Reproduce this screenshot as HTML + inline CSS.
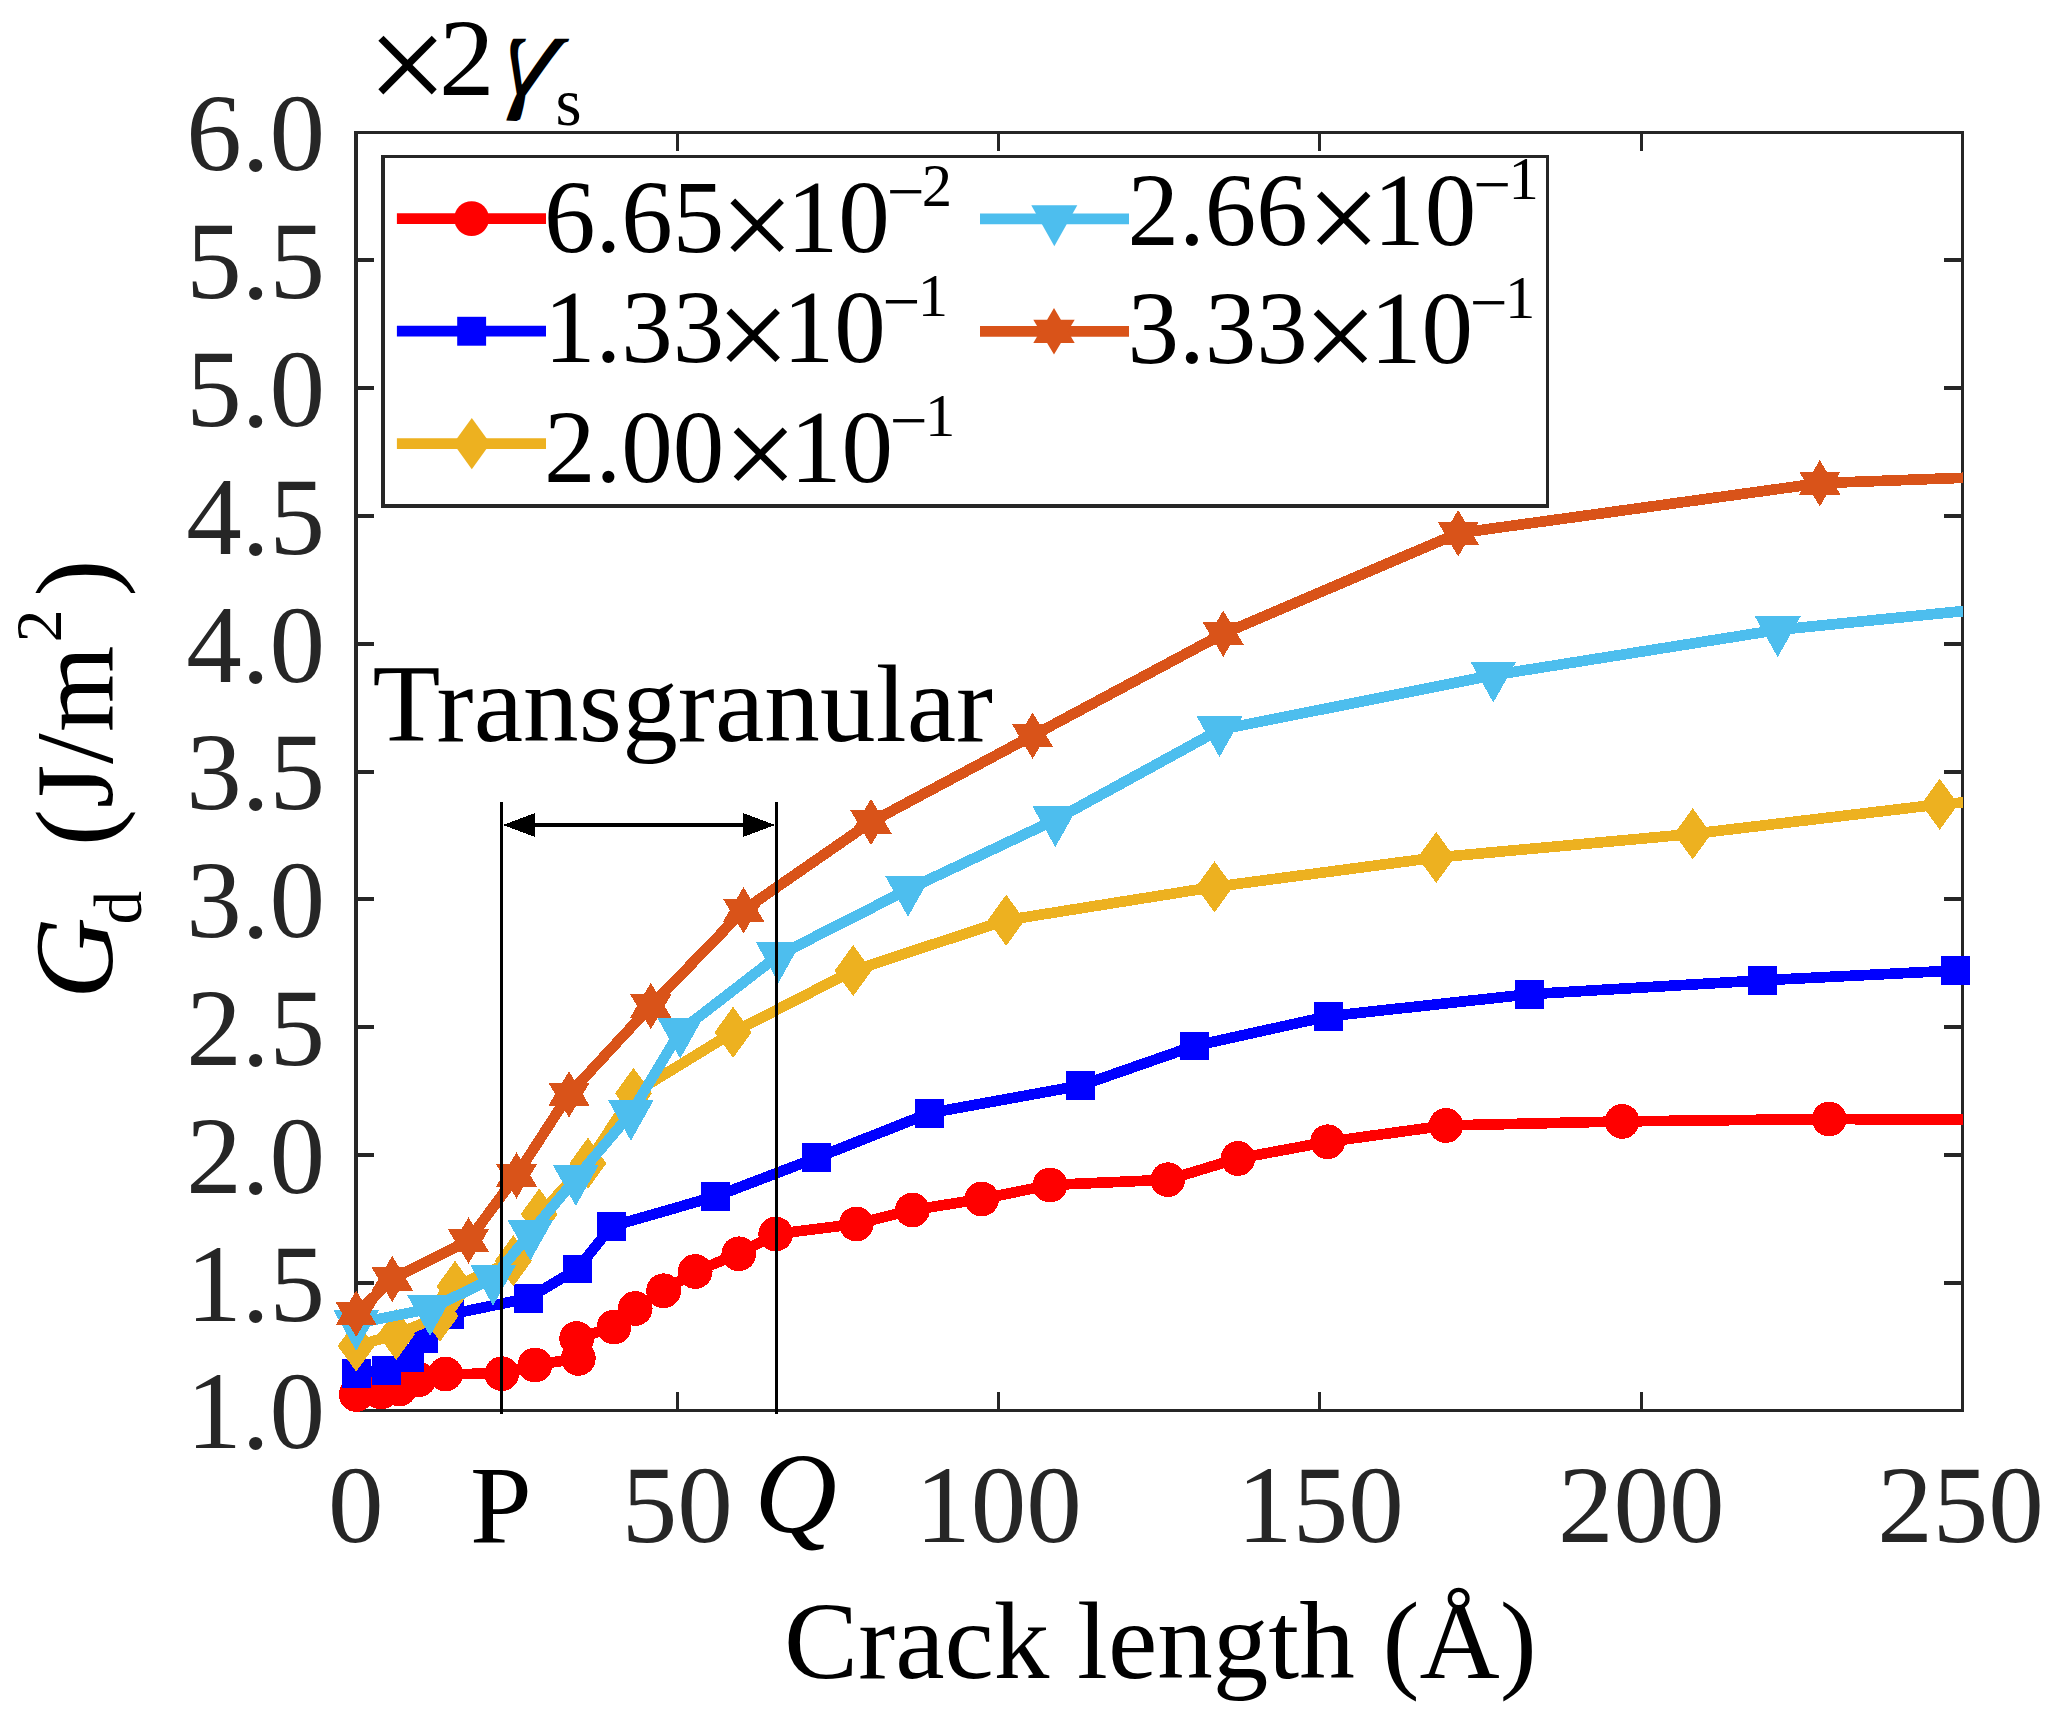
<!DOCTYPE html>
<html lang="en"><head><meta charset="utf-8"><title>Gd vs crack length</title>
<style>html,body{margin:0;padding:0;background:#fff;overflow:hidden}svg{display:block}text{font-family:"Liberation Serif",serif}.tk{fill:#262626;font-size:111.1px}.bk{fill:#000;font-size:111.1px}.lg{fill:#000;font-size:103.0px}.it{font-style:italic}</style></head><body>
<svg width="2060" height="1726" viewBox="0 0 2060 1726">
<rect width="2060" height="1726" fill="#fff"/>
<g fill="#262626" shape-rendering="crispEdges">
<rect x="354" y="131" width="4" height="1281"/>
<rect x="1961" y="131" width="3" height="1281"/>
<rect x="354" y="131" width="1610" height="3"/>
<rect x="354" y="1409" width="1610" height="3"/>
<rect x="676" y="1392" width="3" height="19"/>
<rect x="676" y="132" width="3" height="19"/>
<rect x="997" y="1392" width="3" height="19"/>
<rect x="997" y="132" width="3" height="19"/>
<rect x="1318" y="1392" width="3" height="19"/>
<rect x="1318" y="132" width="3" height="19"/>
<rect x="1640" y="1392" width="3" height="19"/>
<rect x="1640" y="132" width="3" height="19"/>
<rect x="356" y="1281" width="18" height="4"/>
<rect x="1944" y="1281" width="18" height="4"/>
<rect x="356" y="1153" width="18" height="4"/>
<rect x="1944" y="1153" width="18" height="4"/>
<rect x="356" y="1025" width="18" height="4"/>
<rect x="1944" y="1025" width="18" height="4"/>
<rect x="356" y="897" width="18" height="4"/>
<rect x="1944" y="897" width="18" height="4"/>
<rect x="356" y="770" width="18" height="4"/>
<rect x="1944" y="770" width="18" height="4"/>
<rect x="356" y="642" width="18" height="4"/>
<rect x="1944" y="642" width="18" height="4"/>
<rect x="356" y="514" width="18" height="4"/>
<rect x="1944" y="514" width="18" height="4"/>
<rect x="356" y="386" width="18" height="4"/>
<rect x="1944" y="386" width="18" height="4"/>
<rect x="356" y="258" width="18" height="4"/>
<rect x="1944" y="258" width="18" height="4"/>
</g>
<g class="tk">
<text x="325" y="1448.3" text-anchor="end">1.0</text>
<text x="325" y="1320.5" text-anchor="end">1.5</text>
<text x="325" y="1192.7" text-anchor="end">2.0</text>
<text x="325" y="1064.9" text-anchor="end">2.5</text>
<text x="325" y="937.1" text-anchor="end">3.0</text>
<text x="325" y="809.3" text-anchor="end">3.5</text>
<text x="325" y="681.5" text-anchor="end">4.0</text>
<text x="325" y="553.7" text-anchor="end">4.5</text>
<text x="325" y="425.9" text-anchor="end">5.0</text>
<text x="325" y="298.1" text-anchor="end">5.5</text>
<text x="325" y="170.3" text-anchor="end">6.0</text>
<text x="355.7" y="1541.7" text-anchor="middle">0</text>
<text x="677.3" y="1541.7" text-anchor="middle">50</text>
<text x="998.6" y="1541.7" text-anchor="middle">100</text>
<text x="1320.4" y="1541.7" text-anchor="middle">150</text>
<text x="1641.2" y="1541.7" text-anchor="middle">200</text>
<text x="1960.5" y="1541.7" text-anchor="middle">250</text>
</g>
<text x="500.8" y="1541.7" text-anchor="middle" class="bk">P</text>
<text x="795.6" y="1532" text-anchor="middle" class="bk it" style="font-size:114px">Q</text>
<g class="bk">
<text x="1160.4" y="1677.7" text-anchor="middle">Crack length (Å)</text>
<text transform="translate(112.1,1000) rotate(-90)"><tspan class="it" font-size="113" x="1.0" y="0">G</tspan><tspan font-size="67" x="75.5" y="29.1">d</tspan><tspan x="153.9" y="0" letter-spacing="1">(J/m</tspan><tspan font-size="65.5" x="357.7" y="-51.1">2</tspan><tspan x="403.5" y="0">)</tspan></text>
<text><tspan x="367" y="113.4" font-size="143.5">×</tspan><tspan x="439" y="94.7">2</tspan><tspan x="555.5" y="124.9" font-size="67">s</tspan></text>
<text transform="translate(550.7,94.6) skewX(-18) scale(-1.1,1)" font-size="122.3" x="0" y="0">γ</text>
<text x="372.5" y="741" letter-spacing="0.12">Transgranular</text>
</g>
<rect x="383" y="156.5" width="1164.5" height="349.5" fill="#fff"/>
<g fill="#262626" shape-rendering="crispEdges">
<rect x="381" y="155" width="4" height="353"/>
<rect x="1546" y="155" width="3" height="353"/>
<rect x="381" y="155" width="1168" height="3"/>
<rect x="381" y="504" width="1168" height="3.6"/>
</g>
<g shape-rendering="crispEdges">
<polyline points="356.2,1394.5 381.0,1392.0 399.5,1389.0 419.0,1379.5 445.5,1374.0 501.8,1373.7 535.0,1365.0 578.3,1358.4 576.7,1338.5 614.0,1327.0 635.2,1308.5 663.6,1290.8 695.2,1271.5 738.8,1253.8 775.7,1234.0 856.3,1224.0 912.4,1210.0 981.7,1199.0 1050.0,1185.0 1167.8,1179.7 1237.9,1158.5 1327.6,1141.8 1445.9,1125.5 1622.1,1121.4 1829.2,1119.0 1963.0,1119.8" fill="none" stroke="#FF0000" stroke-width="10.7" stroke-linejoin="round" stroke-linecap="butt"/>
<circle cx="356.2" cy="1394.5" r="17.4" fill="#FF0000"/>
<circle cx="381.0" cy="1392.0" r="17.4" fill="#FF0000"/>
<circle cx="399.5" cy="1389.0" r="17.4" fill="#FF0000"/>
<circle cx="419.0" cy="1379.5" r="17.4" fill="#FF0000"/>
<circle cx="445.5" cy="1374.0" r="17.4" fill="#FF0000"/>
<circle cx="501.8" cy="1373.7" r="17.4" fill="#FF0000"/>
<circle cx="535.0" cy="1365.0" r="17.4" fill="#FF0000"/>
<circle cx="578.3" cy="1358.4" r="17.4" fill="#FF0000"/>
<circle cx="576.7" cy="1338.5" r="17.4" fill="#FF0000"/>
<circle cx="614.0" cy="1327.0" r="17.4" fill="#FF0000"/>
<circle cx="635.2" cy="1308.5" r="17.4" fill="#FF0000"/>
<circle cx="663.6" cy="1290.8" r="17.4" fill="#FF0000"/>
<circle cx="695.2" cy="1271.5" r="17.4" fill="#FF0000"/>
<circle cx="738.8" cy="1253.8" r="17.4" fill="#FF0000"/>
<circle cx="775.7" cy="1234.0" r="17.4" fill="#FF0000"/>
<circle cx="856.3" cy="1224.0" r="17.4" fill="#FF0000"/>
<circle cx="912.4" cy="1210.0" r="17.4" fill="#FF0000"/>
<circle cx="981.7" cy="1199.0" r="17.4" fill="#FF0000"/>
<circle cx="1050.0" cy="1185.0" r="17.4" fill="#FF0000"/>
<circle cx="1167.8" cy="1179.7" r="17.4" fill="#FF0000"/>
<circle cx="1237.9" cy="1158.5" r="17.4" fill="#FF0000"/>
<circle cx="1327.6" cy="1141.8" r="17.4" fill="#FF0000"/>
<circle cx="1445.9" cy="1125.5" r="17.4" fill="#FF0000"/>
<circle cx="1622.1" cy="1121.4" r="17.4" fill="#FF0000"/>
<circle cx="1829.2" cy="1119.0" r="17.4" fill="#FF0000"/>
</g>
<g shape-rendering="crispEdges">
<polyline points="356.4,1373.5 386.3,1370.3 409.5,1358.0 423.3,1338.7 449.5,1314.5 528.3,1298.2 577.5,1268.9 611.5,1226.3 715.4,1196.5 816.9,1157.7 929.7,1113.1 1080.6,1085.6 1194.2,1046.0 1328.8,1016.2 1529.5,994.2 1762.8,980.3 1955.7,970.5 1963.0,970.2" fill="none" stroke="#0000FF" stroke-width="10.7" stroke-linejoin="round" stroke-linecap="butt"/>
<rect x="341.9" y="1359.0" width="28.9" height="28.9" fill="#0000FF"/>
<rect x="371.9" y="1355.8" width="28.9" height="28.9" fill="#0000FF"/>
<rect x="395.1" y="1343.5" width="28.9" height="28.9" fill="#0000FF"/>
<rect x="408.9" y="1324.2" width="28.9" height="28.9" fill="#0000FF"/>
<rect x="435.1" y="1300.0" width="28.9" height="28.9" fill="#0000FF"/>
<rect x="513.8" y="1283.8" width="28.9" height="28.9" fill="#0000FF"/>
<rect x="563.0" y="1254.5" width="28.9" height="28.9" fill="#0000FF"/>
<rect x="597.0" y="1211.8" width="28.9" height="28.9" fill="#0000FF"/>
<rect x="700.9" y="1182.0" width="28.9" height="28.9" fill="#0000FF"/>
<rect x="802.4" y="1143.2" width="28.9" height="28.9" fill="#0000FF"/>
<rect x="915.2" y="1098.6" width="28.9" height="28.9" fill="#0000FF"/>
<rect x="1066.1" y="1071.1" width="28.9" height="28.9" fill="#0000FF"/>
<rect x="1179.8" y="1031.5" width="28.9" height="28.9" fill="#0000FF"/>
<rect x="1314.3" y="1001.8" width="28.9" height="28.9" fill="#0000FF"/>
<rect x="1515.0" y="979.8" width="28.9" height="28.9" fill="#0000FF"/>
<rect x="1748.3" y="965.8" width="28.9" height="28.9" fill="#0000FF"/>
<rect x="1941.2" y="956.0" width="28.9" height="28.9" fill="#0000FF"/>
</g>
<g shape-rendering="crispEdges">
<polyline points="356.2,1346.0 396.2,1334.5 440.0,1316.0 455.0,1286.4 513.3,1260.8 539.2,1214.2 587.9,1163.3 633.5,1093.4 733.1,1032.3 853.2,970.6 1006.2,920.2 1214.5,886.9 1436.2,857.5 1692.7,833.9 1939.7,804.3 1963.0,802.5" fill="none" stroke="#EDB120" stroke-width="10.7" stroke-linejoin="round" stroke-linecap="butt"/>
<polygon points="356.2,1320.3 374.7,1346.0 356.2,1371.7 337.7,1346.0" fill="#EDB120"/>
<polygon points="396.2,1308.8 414.7,1334.5 396.2,1360.2 377.7,1334.5" fill="#EDB120"/>
<polygon points="440.0,1290.3 458.5,1316.0 440.0,1341.7 421.5,1316.0" fill="#EDB120"/>
<polygon points="455.0,1260.8 473.5,1286.4 455.0,1312.1 436.5,1286.4" fill="#EDB120"/>
<polygon points="513.3,1235.1 531.8,1260.8 513.3,1286.5 494.8,1260.8" fill="#EDB120"/>
<polygon points="539.2,1188.5 557.7,1214.2 539.2,1239.9 520.7,1214.2" fill="#EDB120"/>
<polygon points="587.9,1137.6 606.4,1163.3 587.9,1189.0 569.4,1163.3" fill="#EDB120"/>
<polygon points="633.5,1067.8 652.0,1093.4 633.5,1119.1 615.0,1093.4" fill="#EDB120"/>
<polygon points="733.1,1006.6 751.6,1032.3 733.1,1058.0 714.6,1032.3" fill="#EDB120"/>
<polygon points="853.2,945.0 871.7,970.6 853.2,996.2 834.7,970.6" fill="#EDB120"/>
<polygon points="1006.2,894.6 1024.7,920.2 1006.2,945.9 987.7,920.2" fill="#EDB120"/>
<polygon points="1214.5,861.2 1233.0,886.9 1214.5,912.5 1196.0,886.9" fill="#EDB120"/>
<polygon points="1436.2,831.9 1454.7,857.5 1436.2,883.1 1417.7,857.5" fill="#EDB120"/>
<polygon points="1692.7,808.2 1711.2,833.9 1692.7,859.5 1674.2,833.9" fill="#EDB120"/>
<polygon points="1939.7,778.6 1958.2,804.3 1939.7,829.9 1921.2,804.3" fill="#EDB120"/>
</g>
<g shape-rendering="crispEdges">
<polyline points="356.2,1323.5 430.0,1308.7 493.1,1278.4 530.3,1233.3 575.8,1178.6 630.9,1113.5 680.2,1031.2 778.5,955.3 908.0,889.5 1055.3,819.8 1219.5,729.8 1493.3,675.2 1777.7,629.9 1963.0,611.1" fill="none" stroke="#4DBEEE" stroke-width="10.7" stroke-linejoin="round" stroke-linecap="butt"/>
<polygon points="333.2,1309.8 379.2,1309.8 356.2,1350.9" fill="#4DBEEE"/>
<polygon points="407.0,1295.0 453.0,1295.0 430.0,1336.1" fill="#4DBEEE"/>
<polygon points="470.1,1264.7 516.1,1264.7 493.1,1305.8" fill="#4DBEEE"/>
<polygon points="507.3,1219.6 553.3,1219.6 530.3,1260.7" fill="#4DBEEE"/>
<polygon points="552.8,1164.9 598.8,1164.9 575.8,1206.0" fill="#4DBEEE"/>
<polygon points="607.9,1099.8 653.9,1099.8 630.9,1140.9" fill="#4DBEEE"/>
<polygon points="657.2,1017.5 703.2,1017.5 680.2,1058.6" fill="#4DBEEE"/>
<polygon points="755.5,941.6 801.5,941.6 778.5,982.7" fill="#4DBEEE"/>
<polygon points="885.0,875.8 931.0,875.8 908.0,916.9" fill="#4DBEEE"/>
<polygon points="1032.3,806.1 1078.3,806.1 1055.3,847.2" fill="#4DBEEE"/>
<polygon points="1196.5,716.1 1242.5,716.1 1219.5,757.2" fill="#4DBEEE"/>
<polygon points="1470.3,661.5 1516.3,661.5 1493.3,702.6" fill="#4DBEEE"/>
<polygon points="1754.7,616.2 1800.7,616.2 1777.7,657.3" fill="#4DBEEE"/>
</g>
<g shape-rendering="crispEdges">
<polyline points="356.2,1313.7 392.3,1279.0 468.5,1240.6 516.5,1175.4 569.0,1094.3 650.8,1006.0 743.6,910.2 871.0,822.0 1032.6,735.7 1223.3,633.7 1458.2,533.2 1819.8,483.2 1963.0,477.8" fill="none" stroke="#D95319" stroke-width="10.7" stroke-linejoin="round" stroke-linecap="butt"/>
<polygon points="356.2,1290.5 363.1,1302.1 376.9,1302.1 370.0,1313.7 376.9,1325.3 363.1,1325.3 356.2,1336.9 349.3,1325.3 335.5,1325.3 342.4,1313.7 335.5,1302.1 349.3,1302.1" fill="#D95319"/>
<polygon points="392.3,1255.8 399.2,1267.4 413.0,1267.4 406.1,1279.0 413.0,1290.6 399.2,1290.6 392.3,1302.2 385.4,1290.6 371.6,1290.6 378.5,1279.0 371.6,1267.4 385.4,1267.4" fill="#D95319"/>
<polygon points="468.5,1217.4 475.4,1229.0 489.2,1229.0 482.3,1240.6 489.2,1252.2 475.4,1252.2 468.5,1263.8 461.6,1252.2 447.8,1252.2 454.7,1240.6 447.8,1229.0 461.6,1229.0" fill="#D95319"/>
<polygon points="516.5,1152.2 523.4,1163.8 537.2,1163.8 530.3,1175.4 537.2,1187.0 523.4,1187.0 516.5,1198.6 509.6,1187.0 495.8,1187.0 502.7,1175.4 495.8,1163.8 509.6,1163.8" fill="#D95319"/>
<polygon points="569.0,1071.1 575.9,1082.7 589.7,1082.7 582.8,1094.3 589.7,1105.9 575.9,1105.9 569.0,1117.5 562.1,1105.9 548.3,1105.9 555.2,1094.3 548.3,1082.7 562.1,1082.7" fill="#D95319"/>
<polygon points="650.8,982.8 657.7,994.4 671.5,994.4 664.6,1006.0 671.5,1017.6 657.7,1017.6 650.8,1029.2 643.9,1017.6 630.1,1017.6 637.0,1006.0 630.1,994.4 643.9,994.4" fill="#D95319"/>
<polygon points="743.6,887.0 750.5,898.6 764.3,898.6 757.4,910.2 764.3,921.8 750.5,921.8 743.6,933.4 736.7,921.8 722.9,921.8 729.8,910.2 722.9,898.6 736.7,898.6" fill="#D95319"/>
<polygon points="871.0,798.8 877.9,810.4 891.7,810.4 884.8,822.0 891.7,833.6 877.9,833.6 871.0,845.2 864.1,833.6 850.3,833.6 857.2,822.0 850.3,810.4 864.1,810.4" fill="#D95319"/>
<polygon points="1032.6,712.5 1039.5,724.1 1053.3,724.1 1046.4,735.7 1053.3,747.3 1039.5,747.3 1032.6,758.9 1025.7,747.3 1011.9,747.3 1018.8,735.7 1011.9,724.1 1025.7,724.1" fill="#D95319"/>
<polygon points="1223.3,610.5 1230.2,622.1 1244.0,622.1 1237.1,633.7 1244.0,645.3 1230.2,645.3 1223.3,656.9 1216.4,645.3 1202.6,645.3 1209.5,633.7 1202.6,622.1 1216.4,622.1" fill="#D95319"/>
<polygon points="1458.2,510.0 1465.1,521.6 1478.9,521.6 1472.0,533.2 1478.9,544.8 1465.1,544.8 1458.2,556.4 1451.3,544.8 1437.5,544.8 1444.4,533.2 1437.5,521.6 1451.3,521.6" fill="#D95319"/>
<polygon points="1819.8,460.0 1826.7,471.6 1840.5,471.6 1833.6,483.2 1840.5,494.8 1826.7,494.8 1819.8,506.4 1812.9,494.8 1799.1,494.8 1806.0,483.2 1799.1,471.6 1812.9,471.6" fill="#D95319"/>
</g>
<line x1="396.9" y1="218.6" x2="546.0" y2="218.6" stroke="#FF0000" stroke-width="10.7"/>
<circle cx="471.6" cy="218.6" r="17.4" fill="#FF0000"/>
<text class="lg"><tspan x="544.1" y="252.0">6.65</tspan><tspan x="720.1" y="268.9" font-size="131.6">×</tspan><tspan x="786.8" y="252.0">10</tspan><tspan x="886.9" y="213.7" font-size="67.0">−</tspan><tspan x="921.7" y="206.2" font-size="60.7">2</tspan></text>
<line x1="396.9" y1="331.2" x2="546.0" y2="331.2" stroke="#0000FF" stroke-width="10.7"/>
<rect x="457.2" y="316.8" width="28.9" height="28.9" fill="#0000FF"/>
<text class="lg"><tspan x="544.1" y="361.8">1.33</tspan><tspan x="716.0" y="378.7" font-size="131.6">×</tspan><tspan x="782.7" y="361.8">10</tspan><tspan x="882.8" y="323.5" font-size="67.0">−</tspan><tspan x="917.8" y="316.0" font-size="60.7">1</tspan></text>
<line x1="396.9" y1="443.6" x2="546.0" y2="443.6" stroke="#EDB120" stroke-width="10.7"/>
<polygon points="471.8,418.0 490.3,443.6 471.8,469.2 453.3,443.6" fill="#EDB120"/>
<text class="lg"><tspan x="544.1" y="481.5">2.00</tspan><tspan x="723.2" y="498.4" font-size="131.6">×</tspan><tspan x="789.9" y="481.5">10</tspan><tspan x="890.0" y="443.2" font-size="67.0">−</tspan><tspan x="925.0" y="435.7" font-size="60.7">1</tspan></text>
<line x1="980.0" y1="218.9" x2="1129.0" y2="218.9" stroke="#4DBEEE" stroke-width="10.7"/>
<polygon points="1031.3,205.2 1077.3,205.2 1054.3,246.3" fill="#4DBEEE"/>
<text class="lg"><tspan x="1127.5" y="245.2">2.66</tspan><tspan x="1306.6" y="262.1" font-size="131.6">×</tspan><tspan x="1373.3" y="245.2">10</tspan><tspan x="1473.4" y="206.9" font-size="67.0">−</tspan><tspan x="1508.4" y="199.4" font-size="60.7">1</tspan></text>
<line x1="980.0" y1="331.3" x2="1129.0" y2="331.3" stroke="#D95319" stroke-width="10.7"/>
<polygon points="1054.0,308.1 1060.9,319.7 1074.7,319.7 1067.8,331.3 1074.7,342.9 1060.9,342.9 1054.0,354.5 1047.1,342.9 1033.3,342.9 1040.2,331.3 1033.3,319.7 1047.1,319.7" fill="#D95319"/>
<text class="lg"><tspan x="1127.5" y="363.3">3.33</tspan><tspan x="1303.2" y="380.2" font-size="131.6">×</tspan><tspan x="1369.9" y="363.3">10</tspan><tspan x="1470.0" y="325.0" font-size="67.0">−</tspan><tspan x="1505.0" y="317.5" font-size="60.7">1</tspan></text>
<g fill="#000" shape-rendering="crispEdges">
<rect x="500" y="802" width="3" height="612"/>
<rect x="775" y="802" width="3" height="612"/>
<rect x="533" y="823" width="212" height="4"/>
<polygon points="503,825 535,813 535,837"/>
<polygon points="775,825 743,813 743,837"/>
</g>
</svg></body></html>
